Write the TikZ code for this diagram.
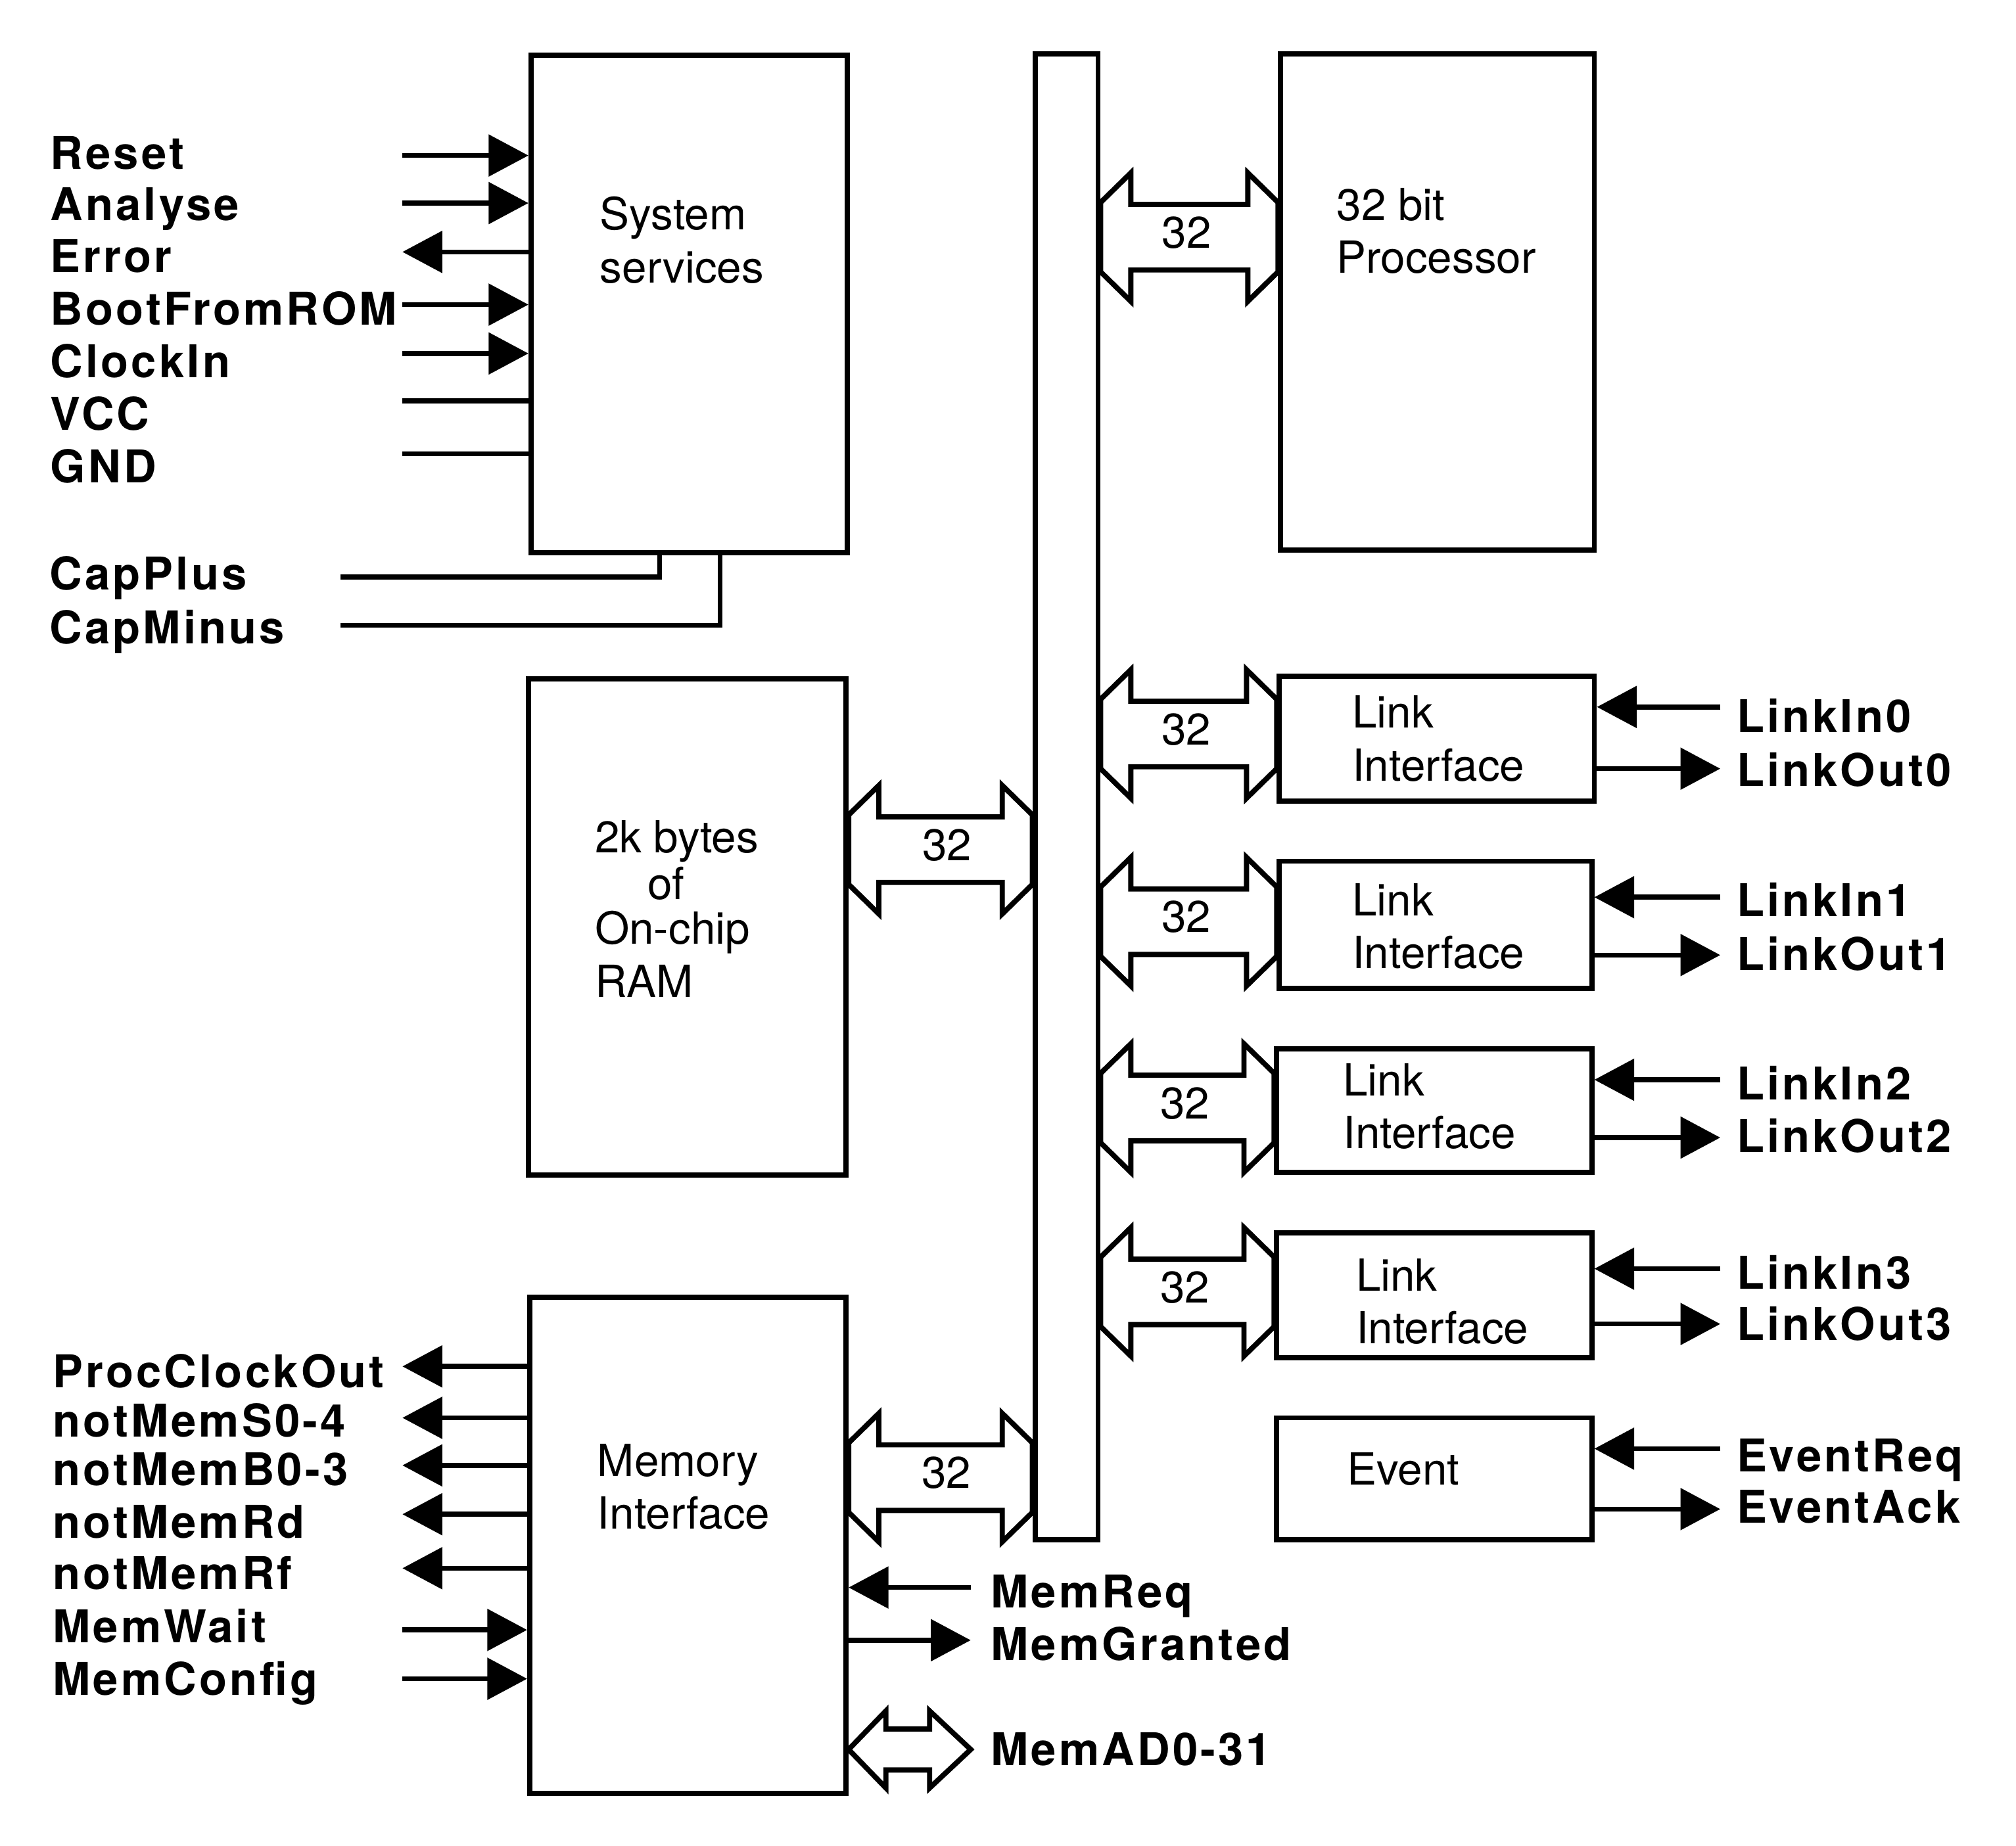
\documentclass[tikz,border=0pt]{standalone}
\usepackage{fontspec}
\setmainfont{TeX Gyre Heros}
\newfontfamily\pinfont[LetterSpace=6]{TeX Gyre Heros}
\usetikzlibrary{arrows.meta,calc,positioning}
\tikzset{blk/.style={draw, line width=1.15pt, anchor=north west, inner sep=0pt}}
\tikzset{txt/.style={font=\fontsize{9.8}{11.7}\selectfont, align=left, inner sep=0pt, anchor=north west}}
\tikzset{pin/.style={font=\pinfont\bfseries\fontsize{10}{12}\selectfont, anchor=base west, inner sep=0pt}}
\tikzset{sig/.style={line width=1.1pt}}
\tikzset{fat/.style={line width=1.15pt, line join=miter}}
% fat bus arrow: left side, right side, y, name, label shift
\newcommand{\busarrow}[5]{%
  \coordinate (#4-l) at (#1 |- 0,-#3);
  \coordinate (#4-r) at (#2 |- 0,-#3);
  \draw[fat] ([shift={(0,0.27)}]#4-l) -- ([shift={(0.235,0.50)}]#4-l) -- ([shift={(0.235,0.255)}]#4-l)
    -- ([shift={(-0.235,0.255)}]#4-r) -- ([shift={(-0.235,0.50)}]#4-r) -- ([shift={(0,0.27)}]#4-r)
    -- ([shift={(0,-0.27)}]#4-r) -- ([shift={(-0.235,-0.50)}]#4-r) -- ([shift={(-0.235,-0.255)}]#4-r)
    -- ([shift={(0.235,-0.255)}]#4-l) -- ([shift={(0.235,-0.50)}]#4-l) -- ([shift={(0,-0.27)}]#4-l) -- cycle;
  \node[txt, anchor=center] (#4) at ($(#4-l)!0.5!(#4-r)+(#5,0.035)$) {32};
}

\begin{document}
\begin{tikzpicture}[>={Triangle[length=3.1mm,width=3.2mm]}]
\useasboundingbox (0,0) rectangle (15.68,-14.36);

% blocks
\node[blk, minimum width=2.46cm, minimum height=3.87cm] (sys) at (4.11,-0.41) {};
\node[blk, minimum width=2.44cm, minimum height=3.86cm] (proc) at (9.94,-0.40) {};
\node[blk, minimum width=0.49cm, minimum height=11.56cm] (bus) at (8.03,-0.40) {};
\node[blk, minimum width=2.47cm, minimum height=3.86cm] (ram) at (4.09,-5.26) {};
\node[blk, minimum width=2.46cm, minimum height=3.86cm] (mem) at (4.10,-10.07) {};
\node[blk, minimum width=2.45cm, minimum height=0.97cm] (link0) at (9.93,-5.24) {};
\node[blk, minimum width=2.43cm, minimum height=0.99cm] (link1) at (9.93,-6.68) {};
\node[blk, minimum width=2.45cm, minimum height=0.96cm] (link2) at (9.91,-8.14) {};
\node[blk, minimum width=2.45cm, minimum height=0.97cm] (link3) at (9.91,-9.57) {};
\node[blk, minimum width=2.45cm, minimum height=0.95cm] (event) at (9.91,-11.01) {};

% block texts
\node[txt] (sys-t) at (4.66,-1.525) {System\\services};
\node[txt] (proc-t) at (10.39,-1.455) {32 bit\\Processor};
\node[txt] (ram-t) at (4.62,-6.375) {2k bytes\\[-0.05cm]\hspace*{0.41cm}of\\[-0.06cm]On-chip\\[0.0cm]RAM};
\node[txt] (mem-t) at (4.64,-11.225) {Memory\\Interface};
\node[txt] (link0-t) at (10.51,-5.405) {Link\\Interface};
\node[txt] (link1-t) at (10.51,-6.865) {Link\\Interface};
\node[txt] (link2-t) at (10.44,-8.265) {Link\\Interface};
\node[txt] (link3-t) at (10.54,-9.785) {Link\\Interface};
\node[txt] (event-t) at (10.47,-11.295) {Event};

% 32 bit paths to the bus
\busarrow{bus.east}{proc.west}{1.845}{bw-proc}{-0.02}
\busarrow{bus.east}{link0.west}{5.71}{bw-link0}{-0.02}
\busarrow{bus.east}{link1.west}{7.17}{bw-link1}{-0.02}
\busarrow{bus.east}{link2.west}{8.62}{bw-link2}{-0.02}
\busarrow{bus.east}{link3.west}{10.05}{bw-link3}{-0.02}
\busarrow{ram.east}{bus.west}{6.61}{bw-ram}{0.05}
\busarrow{mem.east}{bus.west}{11.495}{bw-mem}{0.045}

% system services pins
\foreach \nm/\lbl/\ly/\sy/\dir in {reset/Reset/1.19/1.21/->, analyse/Analyse/1.59/1.58/->,
    error/Error/1.99/1.96/<-, boot/BootFromROM/2.40/2.37/->, clkin/ClockIn/2.81/2.75/->,
    vcc/VCC/3.22/3.12/-, gnd/GND/3.63/3.53/-}{
  \node[pin] (\nm) at (0.385,-\ly-0.127) {\lbl};
  \coordinate (\nm-end) at (3.13,-\sy);
  \draw[sig,\dir] (\nm-end) -- (\nm-end -| sys.west);
}
\node[pin] (capplus) at (0.38,-4.46-0.127) {CapPlus};
\node[pin] (capminus) at (0.38,-4.88-0.127) {CapMinus};
\coordinate (capplus-end) at (2.65,-4.49);
\coordinate (capminus-end) at (2.65,-4.865);
\draw[sig] (capplus-end) -| ([xshift=1.02cm]sys.south west);
\draw[sig] (capminus-end) -| ([xshift=1.49cm]sys.south west);

% memory interface pins
\foreach \nm/\lbl/\ly/\sy/\dir in {pclk/ProcClockOut/10.67/10.63/<-, msel/notMemS0-4/11.05/11.03/<-,
    mbyte/notMemB0-3/11.43/11.40/<-, mrd/notMemRd/11.84/11.78/<-, mrf/notMemRf/12.24/12.20/<-,
    mwait/MemWait/12.65/12.68/->, mcfg/MemConfig/13.06/13.06/->}{
  \node[pin] (\nm) at (0.405,-\ly-0.127) {\lbl};
  \coordinate (\nm-end) at (3.13,-\sy);
  \draw[sig,\dir] (\nm-end) -- (\nm-end -| mem.west);
}
\node[pin] (memreq) at (7.70,-12.38-0.127) {MemReq};
\node[pin] (memgnt) at (7.70,-12.79-0.127) {MemGranted};
\node[pin] (memad) at (7.70,-13.61-0.127) {MemAD0-31};
\coordinate (memreq-end) at (7.55,-12.35);
\coordinate (memgnt-end) at (7.55,-12.76);
\coordinate (memad-end) at (7.55,-13.61);
\draw[sig,->] (memreq-end) -- (memreq-end -| mem.east);
\draw[sig,->] (memgnt-end -| mem.east) -- (memgnt-end);
\coordinate (memad-l) at (memad-end -| mem.east);
\draw[fat] (memad-l) -- ([shift={(0.29,0.30)}]memad-l) -- ([shift={(0.29,0.16)}]memad-l)
  -- ([shift={(-0.32,0.16)}]memad-end) -- ([shift={(-0.32,0.30)}]memad-end) -- (memad-end)
  -- ([shift={(-0.32,-0.30)}]memad-end) -- ([shift={(-0.32,-0.16)}]memad-end)
  -- ([shift={(0.29,-0.16)}]memad-l) -- ([shift={(0.29,-0.30)}]memad-l) -- cycle;

% link pins
\foreach \i/\yin/\yout/\lin/\lout in {0/5.50/5.98/5.57/5.99, 1/6.98/7.43/7.00/7.42,
    2/8.40/8.85/8.43/8.84, 3/9.87/10.30/9.90/10.30}{
  \coordinate (lin\i-end) at (13.38,-\yin);
  \coordinate (lout\i-end) at (13.38,-\yout);
  \draw[sig,->] (lin\i-end) -- (lin\i-end -| link\i.east);
  \draw[sig,->] (lout\i-end -| link\i.east) -- (lout\i-end);
  \node[pin] (lin\i) at (13.50,-\lin-0.127) {LinkIn\i};
  \node[pin] (lout\i) at (13.50,-\lout-0.127) {LinkOut\i};
}
\coordinate (evreq-end) at (13.38,-11.27);
\coordinate (evack-end) at (13.38,-11.74);
\draw[sig,->] (evreq-end) -- (evreq-end -| event.east);
\draw[sig,->] (evack-end -| event.east) -- (evack-end);
\node[pin] (evreq) at (13.50,-11.32-0.127) {EventReq};
\node[pin] (evack) at (13.50,-11.72-0.127) {EventAck};
\end{tikzpicture}
\end{document}
